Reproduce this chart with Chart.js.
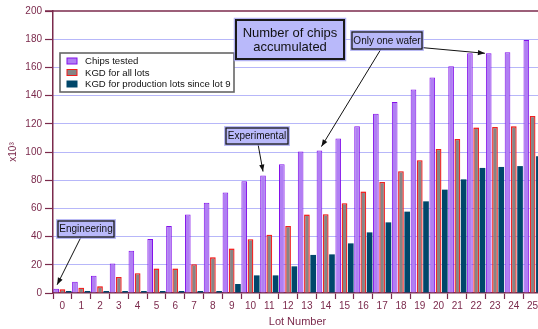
<!DOCTYPE html>
<html>
<head>
<meta charset="utf-8">
<script src="https://cdn.jsdelivr.net/npm/chart.js@4/dist/chart.umd.min.js"></script>
<style>
  html, body { margin: 0; padding: 0; background: #fff; overflow: hidden; width: 538px; height: 329px; }
  canvas { display: block; }
</style>
</head>
<body>
<canvas id="chart" width="542" height="329"></canvas>
<script>
// Lot numbers along the x axis
const lots = ['0','1','2','3','4','5','6','7','8','9','10','11','12','13','14','15','16','17','18','19','20','21','22','23','24','25'];

// Accumulated chip counts, in thousands
const chipsTested = [3, 8, 12.3, 21, 30, 38.3, 47.5, 55.6, 64, 71.2, 79.2, 83.3, 91.3, 100.3, 101, 109.5, 118.2, 127.2, 135.5, 144.3, 152.8, 160.8, 170, 170, 170.7, 179.5];
const kgdAllLots = [2.6, 3.8, 4.7, 11.3, 14, 17.3, 17.3, 20.4, 25.3, 31.5, 38.1, 41.4, 47.5, 55.6, 55.8, 63.6, 71.9, 78.7, 86.3, 94.1, 102.1, 109.2, 117.3, 117.7, 118.2, 125.5];
const kgdProduction = [0, 0, 0, 0, 0, 0, 0, 0, 0, 6.4, 12.5, 12.5, 18.9, 27, 27.4, 35.2, 43, 50.1, 57.7, 65, 73.3, 80.6, 88.7, 89.4, 90, 96.9];

const seriesNames = ['Chips tested', 'KGD for all lots', 'KGD for production lots since lot 9'];

const FONT = '"Liberation Sans", Arial, Helvetica, sans-serif';
const MAROON = '#7b2a4c';
const GRID = '#6f6ff2';

// Callout boxes: pixel layout of each box, arrows point at a bar (dataset, index)
const callouts = [
  { lines: ['Engineering'], size: 10, box: [58, 221, 56, 16], border: 1.3,
    arrows: [{ from: [81, 237], ds: 0, idx: 0, dx: 1, dy: -4 }] },
  { lines: ['Experimental'], size: 10, box: [226, 128, 62, 16], border: 1.3,
    arrows: [{ from: [258, 144], ds: 0, idx: 11, dx: 0, dy: -4 }] },
  { lines: ['Number of chips', 'accumulated'], size: 13, box: [236, 20, 108, 39], border: 2,
    arrows: [] },
  { lines: ['Only one wafer'], size: 10, box: [352, 32, 70, 17], border: 1.3,
    arrows: [
      { from: [381, 49], ds: 0, idx: 14, dx: 2, dy: -4 },
      { from: [421, 47.5], ds: 0, idx: 23, dx: 'left', dy: 0 }
    ] }
];

function arrowHead(ctx, x0, y0, x1, y1) {
  const a = Math.atan2(y1 - y0, x1 - x0);
  const len = 7, half = 2.6;
  ctx.beginPath();
  ctx.moveTo(x1, y1);
  ctx.lineTo(x1 - len * Math.cos(a) + half * Math.sin(a), y1 - len * Math.sin(a) - half * Math.cos(a));
  ctx.lineTo(x1 - len * Math.cos(a) - half * Math.sin(a), y1 - len * Math.sin(a) + half * Math.cos(a));
  ctx.closePath();
  ctx.fill();
}

const overlay = {
  id: 'overlay',
  beforeDatasetDraw(chart, args) {
    if (args.index === 1) {
      chart.ctx.save();
      chart.ctx.shadowColor = 'rgba(255,110,110,0.6)';
      chart.ctx.shadowBlur = 2;
    }
  },
  afterDatasetDraw(chart, args) {
    if (args.index === 1) chart.ctx.restore();
  },
  afterDraw(chart) {
    const ctx = chart.ctx;
    const area = chart.chartArea;
    ctx.save();

    // solid frame line along the top of the plot
    ctx.strokeStyle = MAROON;
    ctx.lineWidth = 1.5;
    ctx.beginPath();
    ctx.moveTo(area.left - 8, area.top);
    ctx.lineTo(area.right, area.top);
    ctx.stroke();

    // legend
    const lx = 60, ly = 53, lw = 174, lh = 39;
    ctx.fillStyle = '#fff';
    ctx.fillRect(lx, ly, lw, lh);
    ctx.strokeStyle = '#666';
    ctx.lineWidth = 1.6;
    ctx.strokeRect(lx, ly, lw, lh);
    ctx.font = '9.6px ' + FONT;
    ctx.textBaseline = 'middle';
    chart.data.datasets.forEach((ds, i) => {
      const y = ly + 8 + i * 11.5;
      ctx.fillStyle = ds.backgroundColor;
      ctx.fillRect(67, y - 3, 10, 6);
      ctx.strokeStyle = ds.borderColor;
      ctx.lineWidth = 1;
      ctx.strokeRect(67, y - 3, 10, 6);
      ctx.fillStyle = '#111';
      ctx.textAlign = 'left';
      ctx.fillText(ds.label, 85, y + 0.5);
    });

    // callouts
    callouts.forEach(c => {
      ctx.strokeStyle = '#111';
      ctx.fillStyle = '#111';
      ctx.lineWidth = 1;
      c.arrows.forEach(a => {
        const bar = chart.getDatasetMeta(a.ds).data[a.idx];
        const tx = a.dx === 'left' ? bar.x - bar.width / 2 - 1 : bar.x + a.dx;
        const ty = bar.y + a.dy;
        ctx.beginPath();
        ctx.moveTo(a.from[0], a.from[1]);
        ctx.lineTo(tx, ty);
        ctx.stroke();
        arrowHead(ctx, a.from[0], a.from[1], tx, ty);
      });
      const [x, y, w, h] = c.box;
      ctx.strokeStyle = 'rgba(160,160,240,0.8)';
      ctx.lineWidth = c.border + 2.5;
      ctx.strokeRect(x, y, w, h);
      ctx.fillStyle = '#b9b9fa';
      ctx.fillRect(x, y, w, h);
      ctx.strokeStyle = '#1a1a1a';
      ctx.lineWidth = c.border;
      ctx.strokeRect(x, y, w, h);
      ctx.fillStyle = '#111';
      ctx.font = c.size + 'px ' + FONT;
      ctx.textAlign = 'center';
      ctx.textBaseline = 'middle';
      const step = c.size + 1;
      const y0 = y + h / 2 - (c.lines.length - 1) * step / 2 + 0.5;
      c.lines.forEach((t, i) => ctx.fillText(t, x + w / 2, y0 + i * step));
    });
    ctx.restore();
  }
};

new Chart(document.getElementById('chart'), {
  type: 'bar',
  data: {
    labels: lots,
    datasets: [
      { label: seriesNames[0], data: chipsTested, backgroundColor: '#b07ff3', borderColor: '#8410ea', borderWidth: 1 },
      { label: seriesNames[1], data: kgdAllLots, backgroundColor: '#858585', borderColor: '#f01c1c', borderWidth: 1.3 },
      { label: seriesNames[2], data: kgdProduction, backgroundColor: '#00476a', borderColor: '#00476a', borderWidth: 0, minBarLength: 2 }
    ]
  },
  options: {
    responsive: false,
    animation: false,
    devicePixelRatio: 1,
    layout: { padding: { top: 11, right: 0, left: 0, bottom: 0 } },
    datasets: { bar: { categoryPercentage: 1.0, barPercentage: 0.9 } },
    plugins: { legend: { display: false }, tooltip: { enabled: false } },
    scales: {
      x: {
        grid: { offset: true, drawOnChartArea: false, tickLength: 6, tickColor: MAROON, tickWidth: 1.2 },
        border: { color: MAROON, width: 1.5 },
        ticks: { color: MAROON, font: { size: 10, family: FONT }, padding: 1, maxRotation: 0, autoSkip: false },
        title: { display: true, text: 'Lot Number', color: MAROON, font: { size: 11, family: FONT }, padding: { top: 4, bottom: 0 } },
        afterFit(s) { s.height = 36; }
      },
      y: {
        min: 0, max: 200,
        ticks: { stepSize: 10, color: MAROON, font: { size: 10, family: FONT }, padding: 3 },
        grid: {
          color: c => (c.tick && (c.tick.value === 0 || c.tick.value === 200)) ? 'rgba(0,0,0,0)' : GRID,
          lineWidth: 1, tickLength: 8, tickColor: MAROON, tickWidth: 1.2, tickBorderDash: []
        },
        border: { color: MAROON, width: 1.5, dash: [1, 1] },
        title: { display: true, text: 'x10³', color: MAROON, font: { size: 10, family: FONT }, padding: { top: 7, bottom: 0 } },
        afterFit(s) { s.width = 53; }
      }
    }
  },
  plugins: [overlay]
});
</script>
</body>
</html>
